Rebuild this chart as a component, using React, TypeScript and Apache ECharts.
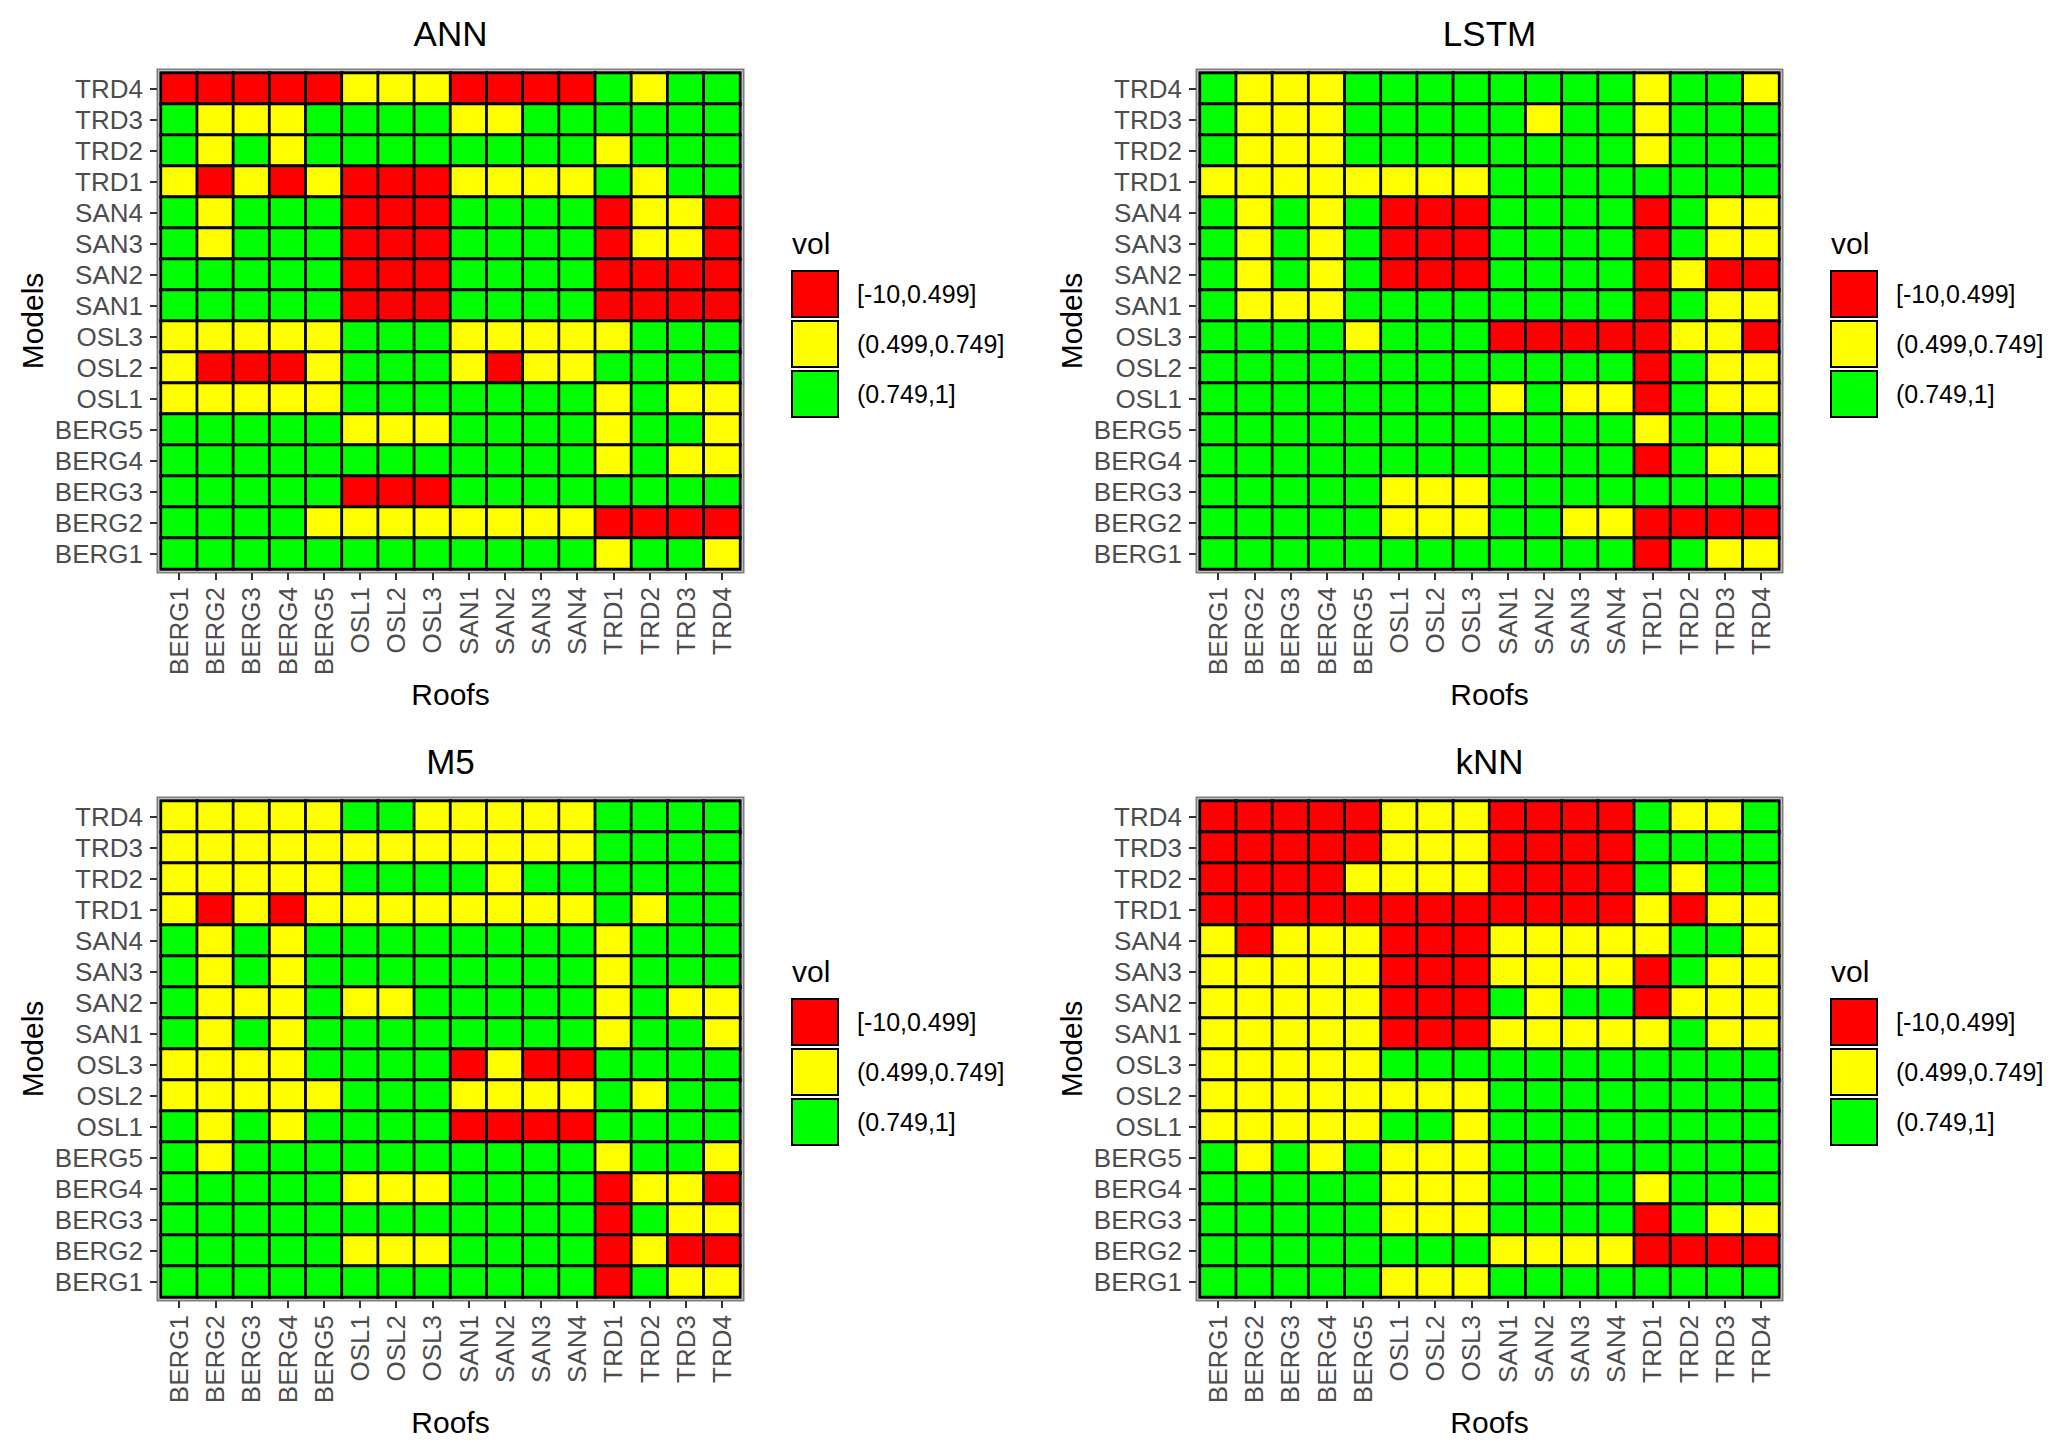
import React, { useEffect, useRef } from "react";
import * as echarts from "echarts";

const roofs = ["BERG1", "BERG2", "BERG3", "BERG4", "BERG5", "OSL1", "OSL2", "OSL3", "SAN1", "SAN2", "SAN3", "SAN4", "TRD1", "TRD2", "TRD3", "TRD4"];
const models = ["BERG1", "BERG2", "BERG3", "BERG4", "BERG5", "OSL1", "OSL2", "OSL3", "SAN1", "SAN2", "SAN3", "SAN4", "TRD1", "TRD2", "TRD3", "TRD4"];

const volClasses = ["[-10,0.499]", "(0.499,0.749]", "(0.749,1]"];
const volColors = ["#FF0000", "#FFFF00", "#00FF00"];

const panelTitles = ["ANN", "LSTM", "M5", "kNN"];

// class index per cell: 0 = [-10,0.499], 1 = (0.499,0.749], 2 = (0.749,1]
// rows run from model TRD4 (top) down to BERG1, columns BERG1 .. TRD4
const annVol = [
  [0, 0, 0, 0, 0, 1, 1, 1, 0, 0, 0, 0, 2, 1, 2, 2],
  [2, 1, 1, 1, 2, 2, 2, 2, 1, 1, 2, 2, 2, 2, 2, 2],
  [2, 1, 2, 1, 2, 2, 2, 2, 2, 2, 2, 2, 1, 2, 2, 2],
  [1, 0, 1, 0, 1, 0, 0, 0, 1, 1, 1, 1, 2, 1, 2, 2],
  [2, 1, 2, 2, 2, 0, 0, 0, 2, 2, 2, 2, 0, 1, 1, 0],
  [2, 1, 2, 2, 2, 0, 0, 0, 2, 2, 2, 2, 0, 1, 1, 0],
  [2, 2, 2, 2, 2, 0, 0, 0, 2, 2, 2, 2, 0, 0, 0, 0],
  [2, 2, 2, 2, 2, 0, 0, 0, 2, 2, 2, 2, 0, 0, 0, 0],
  [1, 1, 1, 1, 1, 2, 2, 2, 1, 1, 1, 1, 1, 2, 2, 2],
  [1, 0, 0, 0, 1, 2, 2, 2, 1, 0, 1, 1, 2, 2, 2, 2],
  [1, 1, 1, 1, 1, 2, 2, 2, 2, 2, 2, 2, 1, 2, 1, 1],
  [2, 2, 2, 2, 2, 1, 1, 1, 2, 2, 2, 2, 1, 2, 2, 1],
  [2, 2, 2, 2, 2, 2, 2, 2, 2, 2, 2, 2, 1, 2, 1, 1],
  [2, 2, 2, 2, 2, 0, 0, 0, 2, 2, 2, 2, 2, 2, 2, 2],
  [2, 2, 2, 2, 1, 1, 1, 1, 1, 1, 1, 1, 0, 0, 0, 0],
  [2, 2, 2, 2, 2, 2, 2, 2, 2, 2, 2, 2, 1, 2, 2, 1],
];

const lstmVol = [
  [2, 1, 1, 1, 2, 2, 2, 2, 2, 2, 2, 2, 1, 2, 2, 1],
  [2, 1, 1, 1, 2, 2, 2, 2, 2, 1, 2, 2, 1, 2, 2, 2],
  [2, 1, 1, 1, 2, 2, 2, 2, 2, 2, 2, 2, 1, 2, 2, 2],
  [1, 1, 1, 1, 1, 1, 1, 1, 2, 2, 2, 2, 2, 2, 2, 2],
  [2, 1, 2, 1, 2, 0, 0, 0, 2, 2, 2, 2, 0, 2, 1, 1],
  [2, 1, 2, 1, 2, 0, 0, 0, 2, 2, 2, 2, 0, 2, 1, 1],
  [2, 1, 2, 1, 2, 0, 0, 0, 2, 2, 2, 2, 0, 1, 0, 0],
  [2, 1, 1, 1, 2, 2, 2, 2, 2, 2, 2, 2, 0, 2, 1, 1],
  [2, 2, 2, 2, 1, 2, 2, 2, 0, 0, 0, 0, 0, 1, 1, 0],
  [2, 2, 2, 2, 2, 2, 2, 2, 2, 2, 2, 2, 0, 2, 1, 1],
  [2, 2, 2, 2, 2, 2, 2, 2, 1, 2, 1, 1, 0, 2, 1, 1],
  [2, 2, 2, 2, 2, 2, 2, 2, 2, 2, 2, 2, 1, 2, 2, 2],
  [2, 2, 2, 2, 2, 2, 2, 2, 2, 2, 2, 2, 0, 2, 1, 1],
  [2, 2, 2, 2, 2, 1, 1, 1, 2, 2, 2, 2, 2, 2, 2, 2],
  [2, 2, 2, 2, 2, 1, 1, 1, 2, 2, 1, 1, 0, 0, 0, 0],
  [2, 2, 2, 2, 2, 2, 2, 2, 2, 2, 2, 2, 0, 2, 1, 1],
];

const m5Vol = [
  [1, 1, 1, 1, 1, 2, 2, 1, 1, 1, 1, 1, 2, 2, 2, 2],
  [1, 1, 1, 1, 1, 1, 1, 1, 1, 1, 1, 1, 2, 2, 2, 2],
  [1, 1, 1, 1, 1, 2, 2, 2, 2, 1, 2, 2, 2, 2, 2, 2],
  [1, 0, 1, 0, 1, 1, 1, 1, 1, 1, 1, 1, 2, 1, 2, 2],
  [2, 1, 2, 1, 2, 2, 2, 2, 2, 2, 2, 2, 1, 2, 2, 2],
  [2, 1, 2, 1, 2, 2, 2, 2, 2, 2, 2, 2, 1, 2, 2, 2],
  [2, 1, 1, 1, 2, 1, 1, 2, 2, 2, 2, 2, 1, 2, 1, 1],
  [2, 1, 2, 1, 2, 2, 2, 2, 2, 2, 2, 2, 1, 2, 2, 1],
  [1, 1, 1, 1, 2, 2, 2, 2, 0, 1, 0, 0, 2, 2, 2, 2],
  [1, 1, 1, 1, 1, 2, 2, 2, 1, 1, 1, 1, 2, 1, 2, 2],
  [2, 1, 2, 1, 2, 2, 2, 2, 0, 0, 0, 0, 2, 2, 2, 2],
  [2, 1, 2, 2, 2, 2, 2, 2, 2, 2, 2, 2, 1, 2, 2, 1],
  [2, 2, 2, 2, 2, 1, 1, 1, 2, 2, 2, 2, 0, 1, 1, 0],
  [2, 2, 2, 2, 2, 2, 2, 2, 2, 2, 2, 2, 0, 2, 1, 1],
  [2, 2, 2, 2, 2, 1, 1, 1, 2, 2, 2, 2, 0, 1, 0, 0],
  [2, 2, 2, 2, 2, 2, 2, 2, 2, 2, 2, 2, 0, 2, 1, 1],
];

const knnVol = [
  [0, 0, 0, 0, 0, 1, 1, 1, 0, 0, 0, 0, 2, 1, 1, 2],
  [0, 0, 0, 0, 0, 1, 1, 1, 0, 0, 0, 0, 2, 2, 2, 2],
  [0, 0, 0, 0, 1, 1, 1, 1, 0, 0, 0, 0, 2, 1, 2, 2],
  [0, 0, 0, 0, 0, 0, 0, 0, 0, 0, 0, 0, 1, 0, 1, 1],
  [1, 0, 1, 1, 1, 0, 0, 0, 1, 1, 1, 1, 1, 2, 2, 1],
  [1, 1, 1, 1, 1, 0, 0, 0, 1, 1, 1, 1, 0, 2, 1, 1],
  [1, 1, 1, 1, 1, 0, 0, 0, 2, 1, 2, 2, 0, 1, 1, 1],
  [1, 1, 1, 1, 1, 0, 0, 0, 1, 1, 1, 1, 1, 2, 1, 1],
  [1, 1, 1, 1, 1, 2, 2, 2, 2, 2, 2, 2, 2, 2, 2, 2],
  [1, 1, 1, 1, 1, 1, 1, 1, 2, 2, 2, 2, 2, 2, 2, 2],
  [1, 1, 1, 1, 1, 2, 2, 1, 2, 2, 2, 2, 2, 2, 2, 2],
  [2, 1, 2, 1, 2, 1, 1, 1, 2, 2, 2, 2, 2, 2, 2, 2],
  [2, 2, 2, 2, 2, 1, 1, 1, 2, 2, 2, 2, 1, 2, 2, 2],
  [2, 2, 2, 2, 2, 1, 1, 1, 2, 2, 2, 2, 0, 2, 1, 1],
  [2, 2, 2, 2, 2, 2, 2, 2, 1, 1, 1, 1, 0, 0, 0, 0],
  [2, 2, 2, 2, 2, 1, 1, 1, 2, 2, 2, 2, 2, 2, 2, 2],
];

const panelData = [annVol, lstmVol, m5Vol, knnVol];

// layout of the 2x2 panels (pixels)
const gridLeft = [161, 1200];
const gridTop = [73, 801];
const gridW = 579;
const gridH = 496;
const font = "'Liberation Sans', Arial, sans-serif";

const toCells = (rows: number[][]) => {
  const cells: number[][] = [];
  rows.forEach((row, r) => {
    row.forEach((v, c) => {
      cells.push([c, models.length - 1 - r, v]);
    });
  });
  return cells;
};

const App: React.FC = () => {
  const chartRef = useRef<HTMLDivElement>(null);

  useEffect(() => {
    if (!chartRef.current) return;
    const chart = echarts.init(chartRef.current, null, { renderer: "svg" });

    const pos = panelTitles.map((_, i) => ({
      left: gridLeft[i % 2],
      top: gridTop[Math.floor(i / 2)],
    }));

    const graphic: any[] = [];
    pos.forEach((p, i) => {
      // plot title
      graphic.push({
        type: "text",
        x: p.left + gridW / 2,
        y: p.top - 40,
        silent: true,
        style: {
          text: panelTitles[i],
          fill: "#000",
          fontSize: 35,
          fontFamily: font,
          align: "center",
          verticalAlign: "middle",
          textAlign: "center",
          textVerticalAlign: "middle",
        },
      });
      // panel frame
      graphic.push({
        type: "rect",
        silent: true,
        shape: { x: p.left - 3.5, y: p.top - 3.5, width: gridW + 7, height: gridH + 7 },
        style: { fill: "none", stroke: "#7f7f7f", lineWidth: 2 },
      });
      // legend
      const lx = p.left + gridW + 52;
      const ly = p.top + 170;
      graphic.push({
        type: "text",
        x: lx,
        y: ly,
        silent: true,
        style: {
          text: "vol",
          fill: "#000",
          fontSize: 30,
          fontFamily: font,
          align: "left",
          verticalAlign: "middle",
          textAlign: "left",
          textVerticalAlign: "middle",
        },
      });
      volClasses.forEach((label, k) => {
        graphic.push({
          type: "rect",
          silent: true,
          shape: { x: lx, y: ly + 28 + k * 50, width: 46, height: 46 },
          style: { fill: volColors[k], stroke: "#000", lineWidth: 2 },
        });
        graphic.push({
          type: "text",
          x: lx + 65,
          y: ly + 51 + k * 50,
          silent: true,
          style: {
            text: label,
            fill: "#000",
            fontSize: 25,
            fontFamily: font,
            align: "left",
            verticalAlign: "middle",
            textAlign: "left",
            textVerticalAlign: "middle",
          },
        });
      });
    });

    const option = {
      animation: false,
      backgroundColor: "#ffffff",
      grid: pos.map((p) => ({
        left: p.left,
        top: p.top,
        width: gridW,
        height: gridH,
        show: false,
        containLabel: false,
      })),
      xAxis: pos.map((_, i) => ({
        type: "category",
        gridIndex: i,
        data: roofs,
        position: "bottom",
        offset: 4,
        axisLine: { show: false },
        axisTick: { show: true, alignWithLabel: true, length: 7, lineStyle: { color: "#333", width: 2 } },
        axisLabel: { interval: 0, rotate: 90, margin: 14, fontSize: 26, color: "#4d4d4d", fontFamily: font },
        splitLine: { show: false },
        name: "Roofs",
        nameLocation: "middle",
        nameGap: 106,
        nameTextStyle: { fontSize: 30, color: "#000", fontFamily: font },
      })),
      yAxis: pos.map((_, i) => ({
        type: "category",
        gridIndex: i,
        data: models,
        offset: 4,
        axisLine: { show: false },
        axisTick: { show: true, alignWithLabel: true, length: 7, lineStyle: { color: "#333", width: 2 } },
        axisLabel: { interval: 0, margin: 14, fontSize: 26, color: "#4d4d4d", fontFamily: font },
        splitLine: { show: false },
        name: "Models",
        nameLocation: "middle",
        nameRotate: 90,
        nameGap: 110,
        nameTextStyle: { fontSize: 30, color: "#000", fontFamily: font },
      })),
      visualMap: {
        type: "piecewise",
        show: false,
        dimension: 2,
        seriesIndex: [0, 1, 2, 3],
        pieces: volColors.map((c, k) => ({ value: k, color: c, label: volClasses[k] })),
      },
      series: panelData.map((rows, i) => ({
        type: "heatmap",
        name: panelTitles[i],
        xAxisIndex: i,
        yAxisIndex: i,
        data: toCells(rows),
        itemStyle: { borderColor: "#000", borderWidth: 2.8 },
        emphasis: { disabled: true },
      })),
      graphic,
    };

    chart.setOption(option);
    return () => {
      chart.dispose();
    };
  }, []);

  return (
    <div
      ref={chartRef}
      style={{ position: "absolute", left: 0, top: 0, width: 2067, height: 1454, background: "#fff" }}
    />
  );
};

export default App;
